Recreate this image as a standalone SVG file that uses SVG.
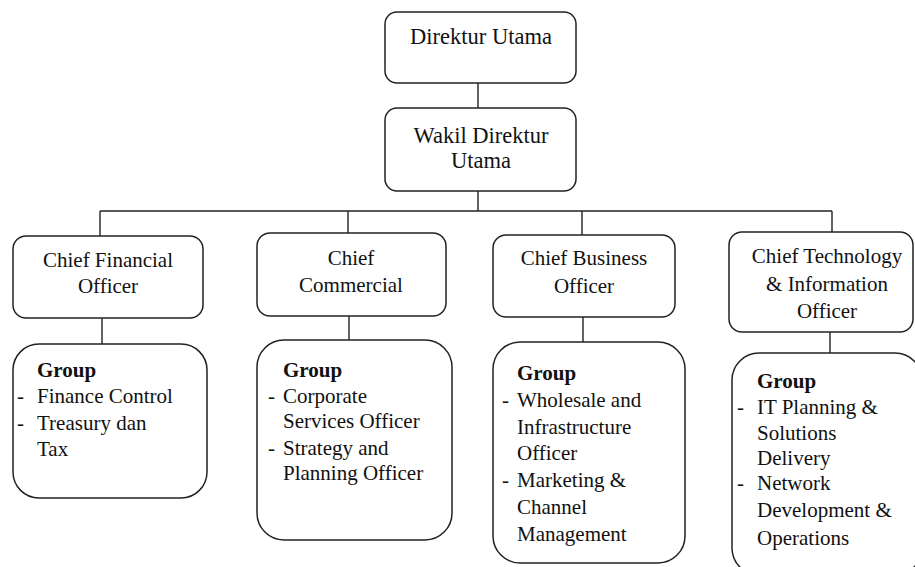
<svg xmlns="http://www.w3.org/2000/svg" width="915" height="567" viewBox="0 0 915 567">
<defs>
<style>
.box{fill:#fff;stroke:#222;stroke-width:1.5}
.ln{stroke:#222;stroke-width:1.4;fill:none}
</style>
</defs>
<rect width="915" height="567" fill="#fff"/>
<g id="connectors">
<line class="ln" x1="478" y1="83" x2="478" y2="108"/>
<line class="ln" x1="478" y1="191" x2="478" y2="211"/>
<line class="ln" x1="100" y1="211" x2="832" y2="211"/>
<line class="ln" x1="100" y1="211" x2="100" y2="236"/>
<line class="ln" x1="348" y1="211" x2="348" y2="233"/>
<line class="ln" x1="582" y1="211" x2="582" y2="235"/>
<line class="ln" x1="832" y1="211" x2="832" y2="232"/>
<line class="ln" x1="102" y1="318" x2="102" y2="344"/>
<line class="ln" x1="349" y1="316" x2="349" y2="340"/>
<line class="ln" x1="583" y1="317" x2="583" y2="342"/>
<line class="ln" x1="830" y1="332" x2="830" y2="353"/>
</g>
<g font-family="Liberation Serif, serif" fill="#111">
<g id="direktur-utama" font-size="22.5" text-anchor="middle">
<rect class="box" x="385" y="12" width="191" height="71" rx="12"/>
<text x="481" y="44">Direktur Utama</text>
</g>
<g id="wakil-direktur-utama" font-size="22.5" text-anchor="middle">
<rect class="box" x="385" y="108" width="191" height="83" rx="12"/>
<text x="481" y="143">Wakil Direktur</text>
<text x="481" y="168">Utama</text>
</g>
<g id="cfo" font-size="21" text-anchor="middle">
<rect class="box" x="13" y="236" width="190" height="82" rx="13"/>
<text x="108" y="267">Chief Financial</text>
<text x="108" y="293">Officer</text>
</g>
<g id="cc" font-size="21" text-anchor="middle">
<rect class="box" x="257" y="233" width="189" height="83" rx="13"/>
<text x="351" y="265">Chief</text>
<text x="351" y="292">Commercial</text>
</g>
<g id="cbo" font-size="21" text-anchor="middle">
<rect class="box" x="493" y="235" width="182" height="82" rx="13"/>
<text x="584" y="265">Chief Business</text>
<text x="584" y="293">Officer</text>
</g>
<g id="ctio" font-size="21" text-anchor="middle">
<rect class="box" x="729" y="232" width="184" height="100" rx="13"/>
<text x="827" y="263">Chief Technology</text>
<text x="827" y="291">&amp; Information</text>
<text x="827" y="318">Officer</text>
</g>
<g id="group-cfo" font-size="21">
<rect class="box" x="13" y="344" width="194" height="154" rx="26"/>
<text x="37" y="377" font-weight="bold">Group</text>
<text x="17" y="403">-</text>
<text x="37" y="403">Finance Control</text>
<text x="17" y="430">-</text>
<text x="37" y="430">Treasury dan</text>
<text x="37" y="456">Tax</text>
</g>
<g id="group-cc" font-size="21">
<rect class="box" x="257" y="340" width="195" height="200" rx="27"/>
<text x="283" y="377" font-weight="bold">Group</text>
<text x="268" y="403">-</text>
<text x="283" y="403">Corporate</text>
<text x="283" y="428">Services Officer</text>
<text x="268" y="455">-</text>
<text x="283" y="455">Strategy and</text>
<text x="283" y="480">Planning Officer</text>
</g>
<g id="group-cbo" font-size="21">
<rect class="box" x="493" y="342" width="192" height="221" rx="27"/>
<text x="517" y="380" font-weight="bold">Group</text>
<text x="502" y="407">-</text>
<text x="517" y="407">Wholesale and</text>
<text x="517" y="434">Infrastructure</text>
<text x="517" y="460">Officer</text>
<text x="502" y="487">-</text>
<text x="517" y="487">Marketing &amp;</text>
<text x="517" y="514">Channel</text>
<text x="517" y="541">Management</text>
</g>
<g id="group-ctio" font-size="21">
<rect class="box" x="732" y="353" width="190" height="222" rx="27"/>
<text x="757" y="388" font-weight="bold">Group</text>
<text x="737" y="414">-</text>
<text x="757" y="414">IT Planning &amp;</text>
<text x="757" y="440">Solutions</text>
<text x="757" y="465">Delivery</text>
<text x="737" y="490">-</text>
<text x="757" y="490">Network</text>
<text x="757" y="517">Development &amp;</text>
<text x="757" y="545">Operations</text>
</g>
</g>
</svg>
